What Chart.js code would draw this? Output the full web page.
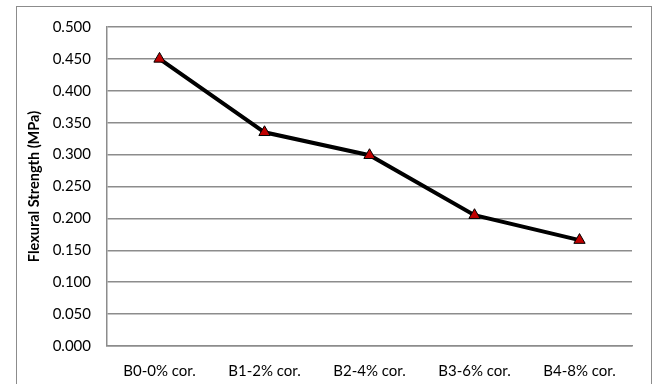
<!DOCTYPE html>
<html>
<head>
<meta charset="utf-8">
<script src="https://cdn.jsdelivr.net/npm/chart.js@4/dist/chart.umd.min.js"></script>
<style>
  html, body { margin: 0; padding: 0; background: #ffffff; }
  #wrap { width: 654px; height: 384px; }
</style>
</head>
<body>
<div id="wrap"><canvas id="c" width="654" height="384"></canvas></div>
<script>
// Beam mixes and their flexural strength (MPa)
const categories = ['B0-0% cor.', 'B1-2% cor.', 'B2-4% cor.', 'B3-6% cor.', 'B4-8% cor.'];
const flexuralStrength = [0.450, 0.335, 0.299, 0.205, 0.166];
const yTicks = [0.000, 0.050, 0.100, 0.150, 0.200, 0.250, 0.300, 0.350, 0.400, 0.450, 0.500];

const FONT = 'Lato, "Open Sans", sans-serif';

// Light frame around the whole chart
const framePlugin = {
  id: 'frame',
  beforeDraw(chart) {
    const ctx = chart.ctx;
    ctx.save();
    ctx.fillStyle = '#ffffff';
    ctx.fillRect(0, 0, chart.width, chart.height);
    ctx.strokeStyle = '#8c8c8c';
    ctx.lineWidth = 1;
    ctx.strokeRect(16.5, 6.5, 635, 400);
    ctx.restore();
  }
};

new Chart(document.getElementById('c'), {
  type: 'line',
  data: {
    labels: categories,
    datasets: [{
      data: flexuralStrength,
      borderColor: '#000000',
      borderWidth: 4,
      pointStyle: 'triangle',
      pointRadius: 6.5,
      pointHoverRadius: 6.5,
      pointBackgroundColor: '#c00000',
      pointBorderColor: '#000000',
      pointBorderWidth: 1,
      tension: 0,
      fill: false
    }]
  },
  options: {
    responsive: false,
    animation: false,
    events: [],
    layout: { padding: { left: 16, top: 27, right: 22, bottom: 0 } },
    plugins: {
      legend: { display: false },
      tooltip: { enabled: false }
    },
    scales: {
      x: {
        offset: true,
        grid: { display: false, drawTicks: false },
        border: { display: true, color: '#8c8c8c', width: 1.5 },
        ticks: { color: '#000000', font: { family: FONT, size: 15 }, padding: 16, maxRotation: 0 },
        afterFit(scale) { scale.height = 38; }
      },
      y: {
        min: 0,
        max: 0.5,
        afterBuildTicks(scale) { scale.ticks = yTicks.map(v => ({ value: v })); },
        grid: { color: '#8c8c8c', lineWidth: 1.5, drawTicks: false },
        border: { display: true, color: '#8c8c8c', width: 1.5 },
        ticks: {
          color: '#000000',
          font: { family: FONT, size: 15 },
          padding: 16,
          callback: v => v.toFixed(3)
        },
        title: {
          display: true,
          text: 'Flexural Strength (MPa)',
          color: '#000000',
          font: { family: FONT, size: 14.5, weight: 'bold' },
          padding: { top: 10, bottom: 0 }
        },
        afterFit(scale) { scale.width = 91; }
      }
    }
  },
  plugins: [framePlugin]
});
</script>
</body>
</html>
